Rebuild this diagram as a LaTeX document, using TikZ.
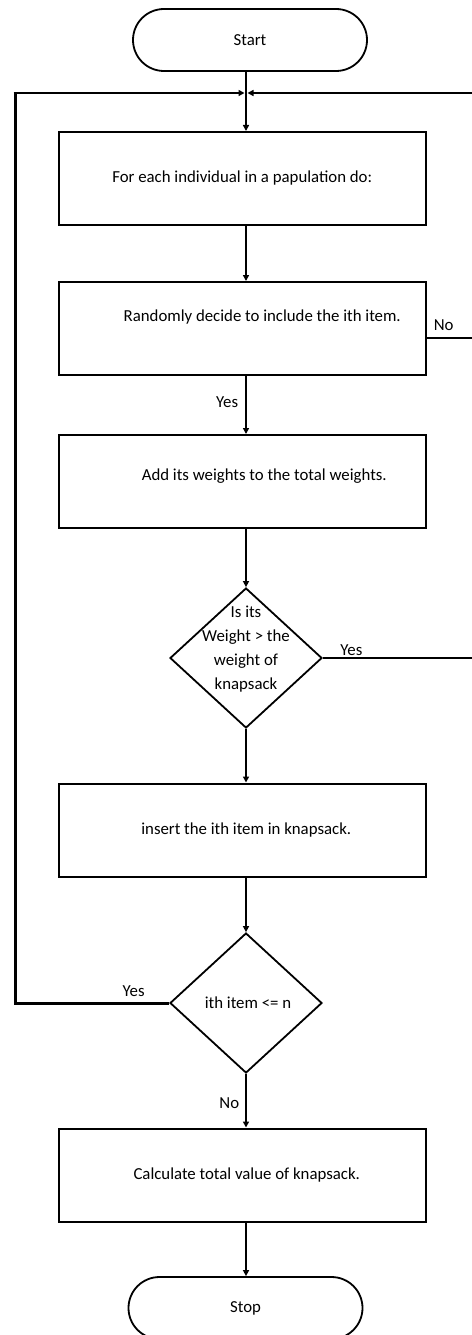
\documentclass[tikz,border=0pt]{standalone}
\usepackage{fontspec}
\setmainfont{Carlito}
\usetikzlibrary{arrows.meta,shapes.geometric,calc}
\begin{document}
\begin{tikzpicture}[x=1pt,y=-1pt,
  every node/.style={font=\fontsize{16.8}{24}\selectfont},
  line/.style={line width=1.8pt},
  thickline/.style={line width=3pt},
  arr/.style={line width=1.8pt,-{Triangle[length=6pt,width=6pt]}},
  proc/.style={draw,line width=2pt,minimum width=366.5pt,minimum height=93pt,inner sep=0pt},
  term/.style={draw,line width=1.8pt,rounded corners=31pt,minimum width=234pt,minimum height=62pt,inner sep=0pt},
  dec/.style={draw,diamond,line width=1.8pt,minimum width=152pt,minimum height=140pt,inner sep=0pt},
  lbl/.style={inner sep=0pt}]
\useasboundingbox (0,0) rectangle (471,1335);

% nodes
\node[term] (start) at (250,40) {Start};
\coordinate (j) at (246,93);
\node[proc] (b1) at (242.25,178.5) {For each individual in a papulation do:};
\node[proc,label={[xshift=20pt,yshift=11.5pt]center:Randomly decide to include the ith item.}] (b2) at (242.25,328.5) {};
\node[proc,label={[xshift=22pt,yshift=5.5pt]center:Add its weights to the total weights.}] (b3) at (242.25,481.5) {};
\node[dec,label={[align=center,yshift=8.5pt]center:Is its\\Weight > the\\weight of\\knapsack}] (d1) at (246,658) {};
\node[proc,label={[xshift=4pt]center:insert the ith item in knapsack.}] (b4) at (242.25,830) {};
\node[dec,label={[xshift=2pt]center:ith item <= n}] (d2) at (246,1003) {};
\node[proc,label={[xshift=4.5pt]center:Calculate total value of knapsack.}] (b5) at (242.25,1175) {};
\node[term] (stop) at (245.5,1308) {Stop};

\coordinate (lc) at (15,93);
\coordinate (rc) at (473,93);

% main spine
\draw[line] (start.south -| j) -- (j);
\draw[arr] (j) -- (b1.north -| j);
\draw[arr] (b1.south -| j) -- (b2.north -| j);
\draw[arr] (b2.south -| j) -- node[lbl,left=7pt,pos=0.45]{Yes} (b3.north -| j);
\draw[arr] (b3.south -| j) -- (d1.north);
\draw[arr] (d1.south) -- (b4.north -| j);
\draw[arr] (b4.south -| j) -- (d2.north);
\draw[arr] (d2.south) -- node[lbl,left=6pt,pos=0.55]{No} (b5.north -| j);
\draw[arr] (b5.south -| j) -- (stop.north -| j);

% left loop
\draw[thickline] (d2.west) -- node[lbl,above=5pt,pos=0.23]{Yes} (d2.west -| lc) -- ([yshift=-0.5pt]lc);
\draw[arr] ([xshift=-1.5pt]lc) -- ([xshift=-1.5pt]j);

% right loop
\draw[line] ([yshift=-9.5pt]b2.east) -- node[lbl,above=6pt,pos=0.37]{No} ([yshift=-9.5pt]b2.east -| rc) -- (rc);
\draw[line] (d1.east) -- node[lbl,above=1pt,pos=0.19]{Yes} (d1.east -| rc) -- ([yshift=-9.5pt]b2.east -| rc);
\draw[arr] (rc) -- ([xshift=1.5pt]j);
\end{tikzpicture}
\end{document}
